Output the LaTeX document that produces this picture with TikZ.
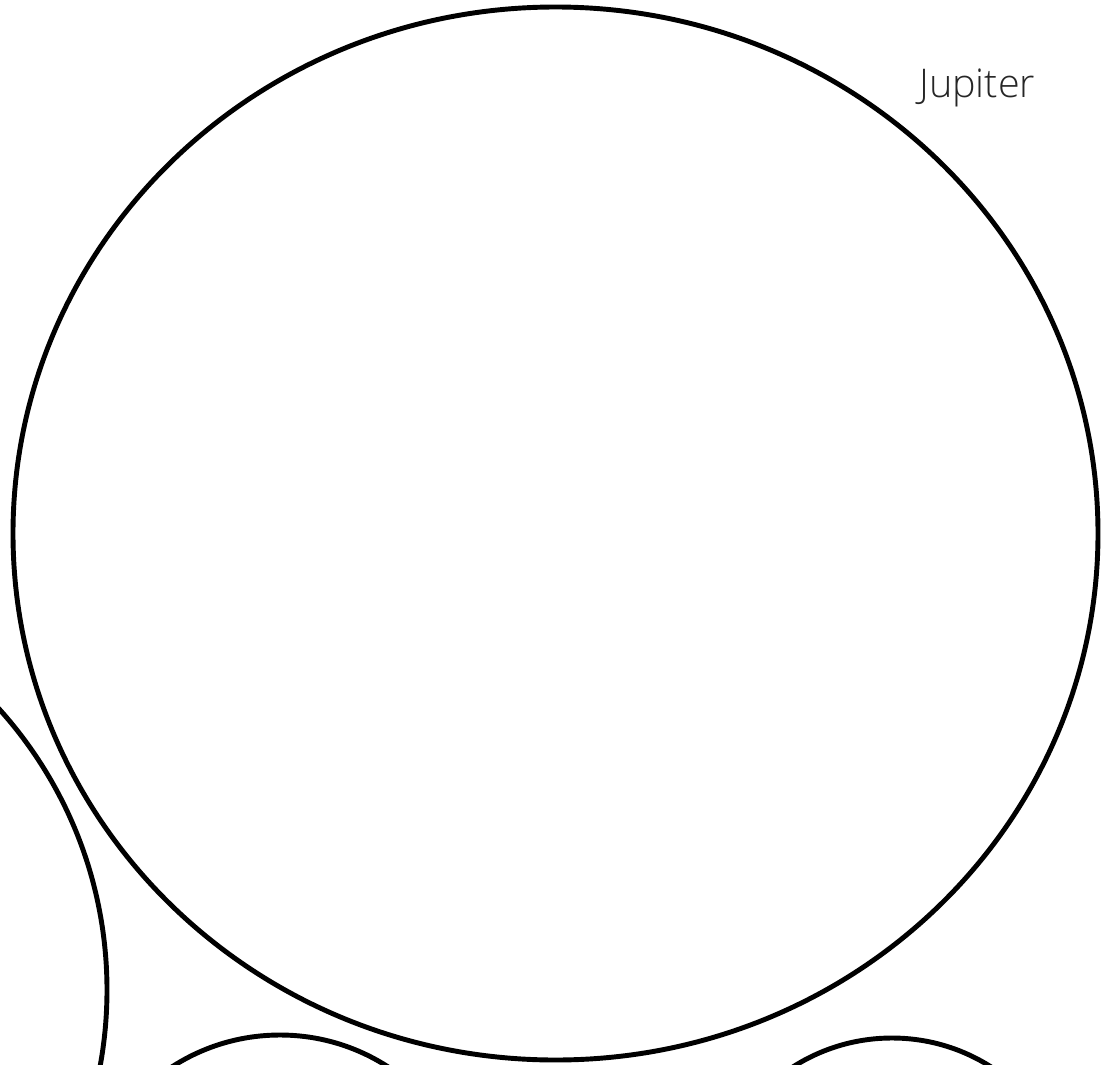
\documentclass[tikz,border=0pt]{standalone}
\usepackage{fontspec}
\newfontfamily\planetfont{Open Sans Light}
\usetikzlibrary{shapes.geometric}

\begin{document}
\begin{tikzpicture}[
    x=0.02cm, y=0.02cm,
    planet/.style={ellipse, draw, line width=2.8pt, inner sep=0pt},
    planetlabel/.style={font=\planetfont\fontsize{22.5}{27}\selectfont, text=black!85, inner sep=0pt}
]
\useasboundingbox (0,0) rectangle (1116,-1065);
\clip (0,0) rectangle (1116,-1065);

\node[planet, minimum width=1085*0.02cm, minimum height=1053*0.02cm] (jupiter) at (555.5,-533.5) {};
\node[planet, minimum width=840*0.02cm,  minimum height=840*0.02cm]  (left)    at (-313,-990) {};
\node[planet, minimum width=398*0.02cm,  minimum height=398*0.02cm]  (lowleft) at (280,-1234) {};
\node[planet, minimum width=368*0.02cm,  minimum height=368*0.02cm]  (lowright) at (892,-1222) {};

\node[planetlabel, anchor=base west] (jlabel) at (919,-97) {Jupiter};
\end{tikzpicture}
\end{document}
